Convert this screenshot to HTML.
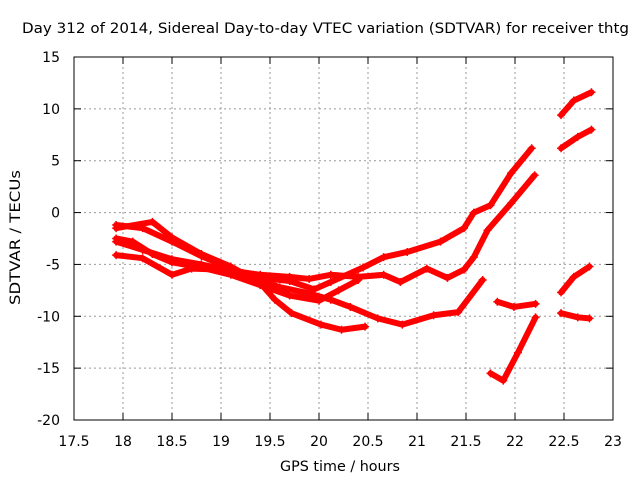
<!DOCTYPE html>
<html><head><meta charset="utf-8"><style>
body{margin:0;background:#fff;}
svg{font-family:"DejaVu Sans","Liberation Sans",sans-serif;}
</style></head><body>
<svg width="640" height="480" id="c">
<rect width="640" height="480" fill="#fff"/>
<text x="22" y="33" font-size="14" textLength="607" lengthAdjust="spacingAndGlyphs">Day 312 of 2014, Sidereal Day-to-day VTEC variation (SDTVAR) for receiver thtg</text>
<text x="280" y="471" font-size="14" textLength="120" lengthAdjust="spacingAndGlyphs">GPS time / hours</text>
<text transform="translate(20,305) rotate(-90)" font-size="14" textLength="135" lengthAdjust="spacingAndGlyphs">SDTVAR / TECUs</text>
<g id="grid"></g>
<g id="series"></g>
<rect x="74" y="57" width="539" height="363" fill="none" stroke="#000"/>
<g id="ticks"></g>
</svg>
<script>
const xTicks=[17.5,18,18.5,19,19.5,20,20.5,21,21.5,22,22.5,23];
const xTickLabels=["17.5","18","18.5","19","19.5","20","20.5","21","21.5","22","22.5","23"];
const yTicks=[15,10,5,0,-5,-10,-15,-20];
const yTickLabels=["15","10","5","0","-5","-10","-15","-20"];
const s1=[[17.93,-1.2],[18.2,-1.5],[18.5,-2.8],[18.8,-4.2],[19.1,-5.4],[19.4,-6.3],[19.7,-6.6],[19.95,-7.4],[20.12,-6.7],[20.45,-5.3],[20.66,-4.3],[20.9,-3.8],[21.24,-2.8],[21.48,-1.5],[21.58,0],[21.75,0.7],[21.96,3.8],[22.17,6.2]];
const s2=[[17.93,-2.8],[18.2,-3.6],[18.5,-4.5],[18.8,-5.0],[19.1,-5.6],[19.4,-6.0],[19.7,-6.2],[19.9,-6.4],[20.12,-6.0],[20.4,-6.2],[20.66,-6.0],[20.83,-6.7],[21.1,-5.4],[21.31,-6.3],[21.48,-5.5],[21.58,-4.3],[21.72,-1.7],[21.96,0.9],[22.2,3.6]];
const s3=[[17.93,-4.1],[18.2,-4.4],[18.5,-6.0],[18.7,-5.4],[19.0,-5.5],[19.3,-6.2],[19.6,-7.2],[19.9,-7.8],[20.12,-8.4],[20.32,-9.1],[20.6,-10.2],[20.85,-10.8],[21.17,-9.9],[21.42,-9.6],[21.67,-6.5]];
const s4=[[17.93,-1.5],[18.3,-0.9],[18.5,-2.4],[18.8,-4.0],[19.1,-5.2],[19.4,-6.8],[19.55,-8.4],[19.72,-9.7],[20.02,-10.8],[20.23,-11.3],[20.47,-11.0]];
const s5=[[17.93,-2.5],[18.1,-2.8],[18.3,-4.0],[18.5,-4.8],[18.8,-5.3],[19.1,-6.0],[19.4,-7.0],[19.7,-8.0],[20.0,-8.5],[20.2,-7.5],[20.4,-6.5]];
const s6=[[21.75,-15.5],[21.88,-16.2],[22.03,-13.5],[22.21,-10.1]];
const s7=[[21.82,-8.6],[21.99,-9.1],[22.21,-8.8]];
const s8=[[22.47,9.4],[22.6,10.8],[22.78,11.6]];
const s9=[[22.47,6.2],[22.64,7.3],[22.78,8.0]];
const s10=[[22.47,-7.7],[22.6,-6.2],[22.76,-5.2]];
const s11=[[22.47,-9.7],[22.64,-10.1],[22.76,-10.2]];
const allSeries=[s1,s2,s3,s4,s5,s6,s7,s8,s9,s10,s11];
const NS="http://www.w3.org/2000/svg";
const X=h=>74+(h-17.5)*539/5.5;
const Y=v=>57+(15-v)*363/35;
const grid=document.getElementById('grid'),ticks=document.getElementById('ticks'),ser=document.getElementById('series');
function mk(tag,attrs,parent){const e=document.createElementNS(NS,tag);for(const k in attrs)e.setAttribute(k,attrs[k]);parent.appendChild(e);return e;}
xTicks.forEach((t,i)=>{const x=X(t);
 if(i>0&&i<xTicks.length-1){const g=mk('line',{x1:x,x2:x,y1:57,y2:420,stroke:'#999','stroke-dasharray':'2,3'},grid);}
 const a=mk('line',{x1:x,x2:x,y1:420,y2:413,stroke:'#000'},ticks);
 const b=mk('line',{x1:x,x2:x,y1:57,y2:64,stroke:'#000'},ticks);
 const l=mk('text',{x:x,y:446,'font-size':14,'text-anchor':'middle'},ticks);l.textContent=xTickLabels[i];});
yTicks.forEach((t,i)=>{const y=Y(t);
 if(i>0&&i<yTicks.length-1){const g=mk('line',{x1:74,x2:613,y1:y,y2:y,stroke:'#999','stroke-dasharray':'2,3'},grid);}
 const a=mk('line',{x1:74,x2:81,y1:y,y2:y,stroke:'#000'},ticks);
 const b=mk('line',{x1:606,x2:613,y1:y,y2:y,stroke:'#000'},ticks);
 const l=mk('text',{x:60,y:y+5,'font-size':14,'text-anchor':'end'},ticks);l.textContent=yTickLabels[i];});
allSeries.forEach((s,i)=>{
 const p=mk('polyline',{points:s.map(d=>X(d[0])+','+Y(d[1])).join(' '),fill:'none',stroke:'#f00','stroke-width':6,'stroke-linejoin':'round','stroke-linecap':'round'},ser);
 
 
 s.forEach(d=>{const x=X(d[0]),y=Y(d[1]);
  const m=mk('path',{d:`M${x-4},${y}H${x+4}M${x},${y-4}V${y+4}`,stroke:'#f00','stroke-width':1.5},ser);
  
  });
});
</script>
</body></html>
